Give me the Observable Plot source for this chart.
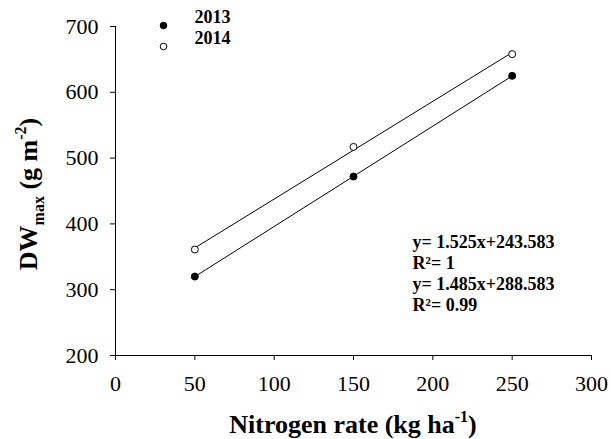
<!DOCTYPE html>
<html><head><meta charset="utf-8">
<script src="https://cdn.jsdelivr.net/npm/d3@7"></script>
<script src="https://cdn.jsdelivr.net/npm/@observablehq/plot@0.6"></script>
<style>
body{margin:0;background:#fff}
svg{display:block}
svg text{font-family:"Liberation Serif","Times New Roman",serif !important}
</style>
</head><body><div id="chart"></div>
<script>
const nitrogen = [50, 150, 250];
const dw2013 = [320, 472, 625];
const dw2014 = [361, 517, 658];
const years = ["2013", "2014"];
const xTicks = [0, 50, 100, 150, 200, 250, 300];
const yTicks = [200, 300, 400, 500, 600, 700];
const equations = ["y= 1.525x+243.583", "R²= 1", "y= 1.485x+288.583", "R²= 0.99"];
const xTitle = ["Nitrogen rate (kg ha", "-1", ")"];
const yTitle = ["DW", "max", " (g m", "-2", ")"];

const data = [
  ...nitrogen.map((n, i) => ({year: years[0], n, dw: dw2013[i]})),
  ...nitrogen.map((n, i) => ({year: years[1], n, dw: dw2014[i]}))
];

const font = "Liberation Serif, Times New Roman, serif";

const chart = Plot.plot({
  width: 611, height: 439,
  marginTop: 26, marginRight: 20, marginBottom: 84, marginLeft: 115,
  style: {fontFamily: font, background: "#fff", color: "#000"},
  x: {domain: [0, 300]},
  y: {domain: [200, 700]},
  color: {domain: years, range: ["#000", "#fff"]},
  marks: [
    Plot.ruleY([200], {stroke: "#000", strokeWidth: 1}),
    Plot.ruleX([0], {stroke: "#000", strokeWidth: 1}),
    Plot.axisX(xTicks, {tickSize: 5, tickPadding: 15, fontSize: 22, fontFamily: font, label: null, stroke: "#000"}),
    Plot.axisY(yTicks, {tickSize: 5, tickPadding: 12, fontSize: 22, fontFamily: font, label: null, stroke: "#000"}),
    Plot.linearRegressionY(data, {x: "n", y: "dw", z: "year", stroke: "#000", strokeWidth: 1, ci: 0}),
    Plot.dot(data, {x: "n", y: "dw", r: 3.5, fill: "year", stroke: "#000", strokeWidth: 1}),
    ...years.map((yr, i) => Plot.dot([yr], {frameAnchor: "top-left", dx: 48, dy: -1 + 21 * i, r: 3.3, fill: i === 0 ? "#000" : "#fff", stroke: "#000", strokeWidth: 1})),
    Plot.text([years.join("\n")], {text: d => d, frameAnchor: "top-left", dx: 79, dy: 0.5, textAnchor: "start", lineAnchor: "middle", lineHeight: 21 / 18, fontSize: 18, fontWeight: "bold", fontFamily: font}),
    Plot.text([equations.join("\n")], {text: d => d, frameAnchor: "top-left", dx: 297, dy: 207, textAnchor: "start", lineAnchor: "top", lineHeight: 21 / 18, fontSize: 18, fontWeight: "bold", fontFamily: font})
  ]
});

const svg = d3.select(chart);
const xt = svg.append("text")
  .attr("x", 353).attr("y", 433)
  .attr("text-anchor", "middle")
  .attr("font-family", font).attr("font-weight", "bold").attr("font-size", 26).attr("fill", "#000");
xt.append("tspan").text(xTitle[0]);
xt.append("tspan").attr("font-size", 16).attr("dy", -11).text(xTitle[1]);
xt.append("tspan").attr("dy", 11).text(xTitle[2]);

const yt = svg.append("text")
  .attr("transform", "translate(37,194) rotate(-90)")
  .attr("text-anchor", "middle")
  .attr("font-family", font).attr("font-weight", "bold").attr("font-size", 26).attr("fill", "#000");
yt.append("tspan").text(yTitle[0]);
yt.append("tspan").attr("font-size", 16).attr("dy", 7).text(yTitle[1]);
yt.append("tspan").attr("dy", -7).text(yTitle[2]);
yt.append("tspan").attr("font-size", 16).attr("dy", -11).text(yTitle[3]);
yt.append("tspan").attr("dy", 11).text(yTitle[4]);

document.getElementById("chart").appendChild(chart);
</script>
</body></html>
